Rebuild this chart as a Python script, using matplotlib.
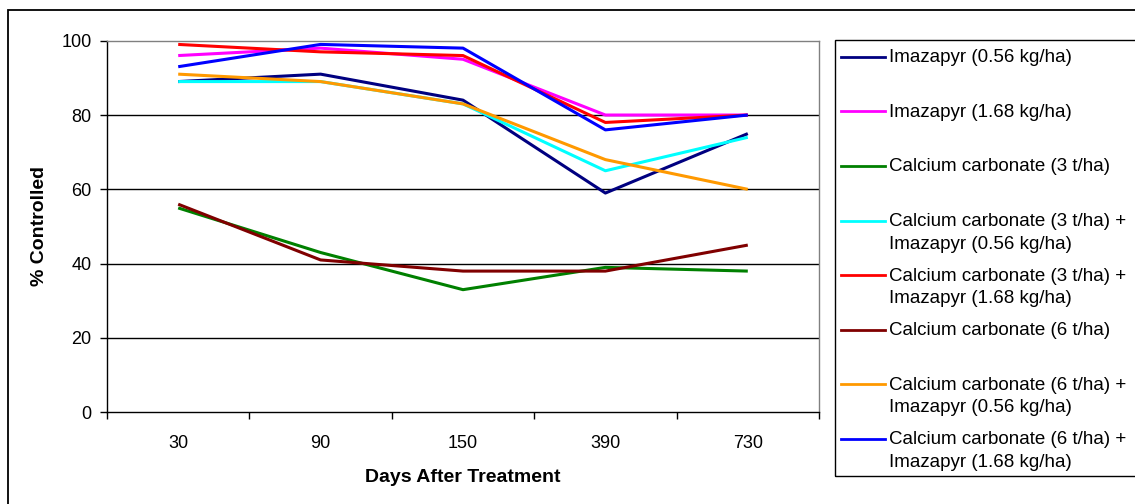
import matplotlib
matplotlib.use("Agg")
import matplotlib.pyplot as plt
from matplotlib.lines import Line2D
from matplotlib.patches import Rectangle
import numpy as np

plt.rcParams['font.family'] = ['Liberation Sans', 'DejaVu Sans']

days = ["30", "90", "150", "390", "730"]
series_labels = [
    "Imazapyr (0.56 kg/ha)",
    "Imazapyr (1.68 kg/ha)",
    "Calcium carbonate (3 t/ha)",
    "Calcium carbonate (3 t/ha) +\nImazapyr (0.56 kg/ha)",
    "Calcium carbonate (3 t/ha) +\nImazapyr (1.68 kg/ha)",
    "Calcium carbonate (6 t/ha)",
    "Calcium carbonate (6 t/ha) +\nImazapyr (0.56 kg/ha)",
    "Calcium carbonate (6 t/ha) +\nImazapyr (1.68 kg/ha)",
]
imaz_056 = [89, 91, 84, 59, 75]
imaz_168 = [96, 98, 95, 80, 80]
caco3_3 = [55, 43, 33, 39, 38]
caco3_3_imaz_056 = [89, 89, 83, 65, 74]
caco3_3_imaz_168 = [99, 97, 96, 78, 80]
caco3_6 = [56, 41, 38, 38, 45]
caco3_6_imaz_056 = [91, 89, 83, 68, 60]
caco3_6_imaz_168 = [93, 99, 98, 76, 80]
series_values = [imaz_056, imaz_168, caco3_3, caco3_3_imaz_056,
                 caco3_3_imaz_168, caco3_6, caco3_6_imaz_056, caco3_6_imaz_168]
colors = ["#000080", "#FF00FF", "#008000", "#00FFFF",
          "#FF0000", "#800000", "#FF9900", "#0000FF"]

W, H = 1135, 504
fig = plt.figure(figsize=(W / 100, H / 100), dpi=100)

def fx(x):
    return x / W

def fy(y):
    return 1 - y / H

# outer chart border (right/bottom cropped)
fig.add_artist(Rectangle((fx(8), fy(520)), fx(1150) - fx(8), fy(10) - fy(520),
                         transform=fig.transFigure, fill=False,
                         edgecolor="black", linewidth=1.3))

left, right, top, bottom = 107, 819, 40.7, 412.3
ax = fig.add_axes([fx(left), fy(bottom), fx(right) - fx(left), fy(top) - fy(bottom)])

x = np.arange(len(days))
for vals, col in zip(series_values, colors):
    ax.plot(x, vals, color=col, linewidth=2.2, solid_capstyle='butt', zorder=3)

ax.set_xlim(-0.5, len(days) - 0.5)
ax.set_ylim(0, 100)
ax.set_yticks([0, 20, 40, 60, 80, 100])
ax.tick_params(axis='y', direction='out', length=5, width=1, labelsize=13, pad=6, color='black')
ax.set_xticks(np.arange(-0.5, len(days), 1.0))
ax.set_xticklabels([])
ax.tick_params(axis='x', which='major', direction='out', length=5, width=1, color='black')
ax.set_xticks(x, minor=True)
ax.set_xticklabels(days, minor=True)
ax.tick_params(axis='x', which='minor', length=0, labelsize=13, pad=16)

for yv in [20, 40, 60, 80]:
    ax.axhline(yv, color='black', linewidth=1.0, zorder=1)

ax.spines['top'].set_color('#808080')
ax.spines['right'].set_color('#808080')
ax.spines['left'].set_color('black')
ax.spines['bottom'].set_color('black')
for s in ax.spines.values():
    s.set_linewidth(1.0)

fig.text(fx(40), fy(226), "% Controlled", rotation=90, ha='center', va='center',
         fontsize=14, fontweight='bold')
fig.text(fx(463), fy(477), "Days After Treatment", ha='center', va='center',
         fontsize=14, fontweight='bold')

# legend box
fig.add_artist(Rectangle((fx(835), fy(475.5)), fx(1150) - fx(835), fy(39.7) - fy(475.5),
                         transform=fig.transFigure, fill=False,
                         edgecolor="black", linewidth=1.0))
for i, (lab, col) in enumerate(zip(series_labels, colors)):
    yc = 56.7 + 54.6 * i
    fig.add_artist(Line2D([fx(841), fx(885)], [fy(yc), fy(yc)], color=col,
                          linewidth=2.0, transform=fig.transFigure))
    for j, line in enumerate(lab.split("\n")):
        fig.text(fx(889), fy(yc + 1 + 22.7 * j), line, ha='left', va='center',
                 fontsize=13.5)

fig.savefig("out.png", dpi=100)
